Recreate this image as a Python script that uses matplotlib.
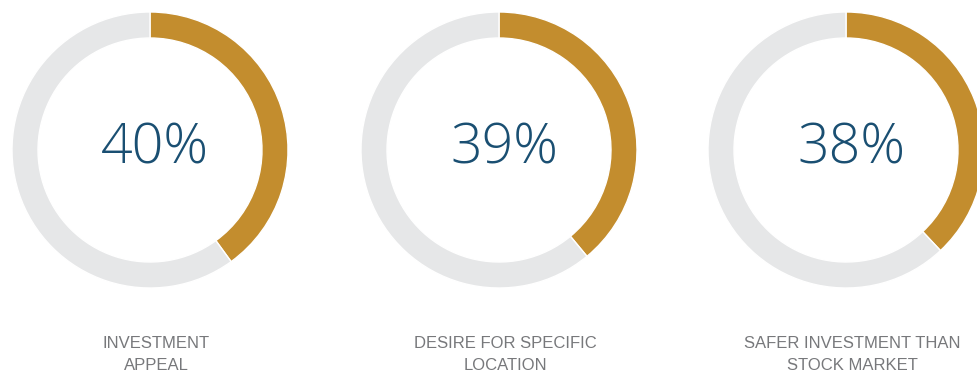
import matplotlib.pyplot as plt

plt.rcParams['font.family'] = ['Liberation Sans', 'DejaVu Sans']

values = [40, 39, 38]
labels = ['INVESTMENT\nAPPEAL', 'DESIRE FOR SPECIFIC\nLOCATION', 'SAFER INVESTMENT THAN\nSTOCK MARKET']

gold = '#C38D2E'
grey = '#E6E7E8'
blue = '#1A4F72'
label_grey = '#77787B'

W, H = 978, 373
centers_x = [150, 499, 846]
center_y = H - 150
radius = 138
ring = 26

fig = plt.figure(figsize=(W / 100, H / 100), dpi=100)
ax = fig.add_axes([0, 0, 1, 1])

for cx, v, lab in zip(centers_x, values, labels):
    ax.pie([v, 100 - v], colors=[gold, grey], startangle=90, counterclock=False,
           center=(cx, center_y), radius=radius, frame=True,
           wedgeprops=dict(width=ring, edgecolor='white', linewidth=1))
    ax.text(cx + 5, center_y + 1, f'{v}%', ha='center', va='center',
            fontsize=40, color=blue, family=['Open Sans', 'DejaVu Sans'], weight='light')
    ax.text(cx + 6, H - 354.5, lab, ha='center', va='center', fontsize=12,
            color=label_grey, linespacing=1.55)

ax.set_xlim(0, W)
ax.set_ylim(0, H)
ax.set_aspect('equal')
ax.axis('off')

fig.savefig('out.png', dpi=100)
